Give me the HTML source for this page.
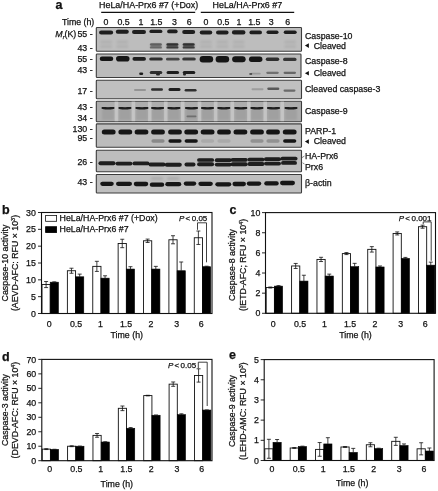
<!DOCTYPE html>
<html><head><meta charset="utf-8"><style>
html,body{margin:0;padding:0;background:#fff;}
body{width:438px;height:491px;overflow:hidden;}
svg{display:block;will-change:transform;font-family:"Liberation Sans",sans-serif;fill:#111;}
text{fill:#111;stroke:#111;stroke-width:0.25px;}
</style></head><body>
<svg width="438" height="491" viewBox="0 0 438 491">
<text x="55.50" y="9.30" font-size="12.5" text-anchor="start" font-weight="bold">a</text>
<text x="99.00" y="8.30" font-size="8.92" text-anchor="start">HeLa/HA-Prx6 #7 (+Dox)</text>
<text x="212.60" y="8.30" font-size="8.88" text-anchor="start">HeLa/HA-Prx6 #7</text>
<line x1="101.20" y1="12.40" x2="195.20" y2="12.40" stroke="#111" stroke-width="1.1"/>
<line x1="200.80" y1="12.40" x2="294.20" y2="12.40" stroke="#111" stroke-width="1.1"/>
<text x="94.30" y="24.60" font-size="8.8" text-anchor="end">Time (h)</text>
<text x="106.00" y="24.70" font-size="8.8" text-anchor="middle">0</text>
<text x="123.60" y="24.70" font-size="8.8" text-anchor="middle">0.5</text>
<text x="141.00" y="24.70" font-size="8.8" text-anchor="middle">1</text>
<text x="156.30" y="24.70" font-size="8.8" text-anchor="middle">1.5</text>
<text x="174.40" y="24.70" font-size="8.8" text-anchor="middle">3</text>
<text x="189.20" y="24.70" font-size="8.8" text-anchor="middle">6</text>
<text x="206.00" y="24.70" font-size="8.8" text-anchor="middle">0</text>
<text x="223.40" y="24.70" font-size="8.8" text-anchor="middle">0.5</text>
<text x="238.90" y="24.70" font-size="8.8" text-anchor="middle">1</text>
<text x="254.30" y="24.70" font-size="8.8" text-anchor="middle">1.5</text>
<text x="271.20" y="24.70" font-size="8.8" text-anchor="middle">3</text>
<text x="287.70" y="24.70" font-size="8.8" text-anchor="middle">6</text>
<text x="92.60" y="36.90" font-size="8.8" text-anchor="end">55 -</text>
<text x="92.60" y="50.60" font-size="8.8" text-anchor="end">43 -</text>
<text x="92.60" y="62.10" font-size="8.8" text-anchor="end">55 -</text>
<text x="92.60" y="73.20" font-size="8.8" text-anchor="end">43 -</text>
<text x="92.60" y="93.50" font-size="8.8" text-anchor="end">17 -</text>
<text x="92.60" y="110.20" font-size="8.8" text-anchor="end">43 -</text>
<text x="92.60" y="120.90" font-size="8.8" text-anchor="end">34 -</text>
<text x="92.60" y="131.60" font-size="8.8" text-anchor="end">130 -</text>
<text x="92.60" y="141.40" font-size="8.8" text-anchor="end">95 -</text>
<text x="92.60" y="165.40" font-size="8.8" text-anchor="end">26 -</text>
<text x="92.60" y="185.40" font-size="8.8" text-anchor="end">43 -</text>
<text x="55.3" y="36.9" font-size="8.8"><tspan font-style="italic">M</tspan><tspan font-size="5.5" font-style="italic" dy="1.6">r</tspan><tspan dy="-1.6">(K)</tspan></text>
<defs><filter id="bl" x="-30%" y="-150%" width="160%" height="400%"><feGaussianBlur stdDeviation="0.75"/></filter><filter id="bl2" x="-30%" y="-150%" width="160%" height="400%"><feGaussianBlur stdDeviation="1.2"/></filter><filter id="pb" x="-5%" y="-20%" width="110%" height="140%"><feGaussianBlur stdDeviation="0.35"/></filter></defs>
<rect x="96.30" y="27.50" width="205.20" height="23.80" fill="#bdbdbd" stroke="#3c3c3c" stroke-width="1.1" rx="0.8"/>
<rect x="96.30" y="54.00" width="204.70" height="23.50" fill="#bbbbbb" stroke="#3c3c3c" stroke-width="1.1" rx="0.8"/>
<rect x="96.30" y="80.20" width="205.20" height="18.60" fill="#c0c0c0" stroke="#3c3c3c" stroke-width="1.1" rx="0.8"/>
<rect x="96.30" y="101.20" width="205.20" height="20.50" fill="#adadad" stroke="#3c3c3c" stroke-width="1.1" rx="0.8"/>
<rect x="96.30" y="123.90" width="205.20" height="23.40" fill="#bcbcbc" stroke="#3c3c3c" stroke-width="1.1" rx="0.8"/>
<rect x="96.30" y="150.30" width="205.20" height="21.50" fill="#bdbdbd" stroke="#3c3c3c" stroke-width="1.1" rx="0.8"/>
<rect x="96.30" y="174.50" width="205.20" height="18.50" fill="#bfbfbf" stroke="#3c3c3c" stroke-width="1.1" rx="0.8"/>
<rect x="99.10" y="30.55" width="14.00" height="3.90" rx="1.95" fill="#151515" opacity="0.95" filter="url(#bl)"/>
<rect x="115.80" y="29.75" width="13.00" height="3.90" rx="1.95" fill="#151515" opacity="0.95" filter="url(#bl)"/>
<rect x="132.00" y="30.05" width="14.00" height="3.90" rx="1.95" fill="#151515" opacity="0.95" filter="url(#bl)"/>
<rect x="149.40" y="29.75" width="13.00" height="3.30" rx="1.65" fill="#151515" opacity="0.95" filter="url(#bl)"/>
<rect x="167.15" y="29.45" width="10.50" height="3.90" rx="1.95" fill="#151515" opacity="0.95" filter="url(#bl)"/>
<rect x="182.20" y="29.95" width="13.00" height="4.10" rx="2.05" fill="#151515" opacity="0.95" filter="url(#bl)"/>
<rect x="199.75" y="30.45" width="12.50" height="4.10" rx="2.05" fill="#151515" opacity="0.95" filter="url(#bl)"/>
<rect x="216.05" y="30.45" width="12.50" height="4.10" rx="2.05" fill="#151515" opacity="0.95" filter="url(#bl)"/>
<rect x="231.95" y="30.35" width="13.50" height="4.10" rx="2.05" fill="#151515" opacity="0.95" filter="url(#bl)"/>
<rect x="249.45" y="30.45" width="12.50" height="3.90" rx="1.95" fill="#151515" opacity="0.95" filter="url(#bl)"/>
<rect x="266.50" y="30.45" width="12.00" height="3.50" rx="1.75" fill="#151515" opacity="0.95" filter="url(#bl)"/>
<rect x="283.70" y="30.45" width="13.00" height="3.50" rx="1.75" fill="#151515" opacity="0.95" filter="url(#bl)"/>
<rect x="149.90" y="43.20" width="12.00" height="2.60" rx="1.30" fill="#151515" opacity="0.50" filter="url(#bl)"/>
<rect x="149.90" y="46.20" width="12.00" height="2.40" rx="1.20" fill="#151515" opacity="0.45" filter="url(#bl)"/>
<rect x="149.90" y="43.50" width="12.00" height="5.00" rx="2.50" fill="#151515" opacity="0.15" filter="url(#bl2)"/>
<rect x="166.40" y="43.20" width="12.00" height="2.60" rx="1.30" fill="#151515" opacity="0.80" filter="url(#bl)"/>
<rect x="166.40" y="46.20" width="12.00" height="2.40" rx="1.20" fill="#151515" opacity="0.72" filter="url(#bl)"/>
<rect x="166.40" y="43.50" width="12.00" height="5.00" rx="2.50" fill="#151515" opacity="0.24" filter="url(#bl2)"/>
<rect x="182.70" y="43.20" width="12.00" height="2.60" rx="1.30" fill="#151515" opacity="0.80" filter="url(#bl)"/>
<rect x="182.70" y="46.20" width="12.00" height="2.40" rx="1.20" fill="#151515" opacity="0.72" filter="url(#bl)"/>
<rect x="182.70" y="43.50" width="12.00" height="5.00" rx="2.50" fill="#151515" opacity="0.24" filter="url(#bl2)"/>
<rect x="100.10" y="40.50" width="12.00" height="3.00" rx="1.50" fill="#151515" opacity="0.07" filter="url(#bl2)"/>
<rect x="100.10" y="45.00" width="12.00" height="3.00" rx="1.50" fill="#151515" opacity="0.07" filter="url(#bl2)"/>
<rect x="116.30" y="40.50" width="12.00" height="3.00" rx="1.50" fill="#151515" opacity="0.07" filter="url(#bl2)"/>
<rect x="116.30" y="45.00" width="12.00" height="3.00" rx="1.50" fill="#151515" opacity="0.07" filter="url(#bl2)"/>
<rect x="200.00" y="40.50" width="12.00" height="3.00" rx="1.50" fill="#151515" opacity="0.07" filter="url(#bl2)"/>
<rect x="200.00" y="45.00" width="12.00" height="3.00" rx="1.50" fill="#151515" opacity="0.07" filter="url(#bl2)"/>
<rect x="216.30" y="40.50" width="12.00" height="3.00" rx="1.50" fill="#151515" opacity="0.07" filter="url(#bl2)"/>
<rect x="216.30" y="45.00" width="12.00" height="3.00" rx="1.50" fill="#151515" opacity="0.07" filter="url(#bl2)"/>
<rect x="232.70" y="40.50" width="12.00" height="3.00" rx="1.50" fill="#151515" opacity="0.07" filter="url(#bl2)"/>
<rect x="232.70" y="45.00" width="12.00" height="3.00" rx="1.50" fill="#151515" opacity="0.07" filter="url(#bl2)"/>
<rect x="284.20" y="40.50" width="12.00" height="3.00" rx="1.50" fill="#151515" opacity="0.07" filter="url(#bl2)"/>
<rect x="284.20" y="45.00" width="12.00" height="3.00" rx="1.50" fill="#151515" opacity="0.07" filter="url(#bl2)"/>
<rect x="99.75" y="56.60" width="13.50" height="4.40" rx="2.20" fill="#151515" opacity="1.00" filter="url(#bl)"/>
<rect x="116.05" y="56.00" width="13.50" height="5.60" rx="2.80" fill="#151515" opacity="1.00" filter="url(#bl)"/>
<rect x="132.45" y="57.10" width="13.50" height="3.60" rx="1.80" fill="#151515" opacity="0.95" filter="url(#bl)"/>
<rect x="149.25" y="57.40" width="13.50" height="3.20" rx="1.60" fill="#151515" opacity="0.85" filter="url(#bl)"/>
<rect x="166.05" y="57.80" width="13.50" height="2.80" rx="1.40" fill="#151515" opacity="0.70" filter="url(#bl)"/>
<rect x="182.25" y="57.40" width="13.50" height="3.20" rx="1.60" fill="#151515" opacity="0.80" filter="url(#bl)"/>
<rect x="199.65" y="56.00" width="13.50" height="6.40" rx="3.20" fill="#151515" opacity="1.00" filter="url(#bl)"/>
<rect x="215.65" y="56.00" width="13.50" height="6.40" rx="3.20" fill="#151515" opacity="1.00" filter="url(#bl)"/>
<rect x="232.15" y="56.20" width="13.50" height="6.00" rx="3.00" fill="#151515" opacity="1.00" filter="url(#bl)"/>
<rect x="248.95" y="56.50" width="13.50" height="5.40" rx="2.70" fill="#151515" opacity="1.00" filter="url(#bl)"/>
<rect x="265.75" y="57.50" width="13.50" height="3.40" rx="1.70" fill="#151515" opacity="0.85" filter="url(#bl)"/>
<rect x="283.05" y="57.80" width="13.50" height="3.20" rx="1.60" fill="#151515" opacity="0.80" filter="url(#bl)"/>
<rect x="149.75" y="70.90" width="12.50" height="3.00" rx="1.50" fill="#151515" opacity="0.85" filter="url(#bl)"/>
<rect x="166.55" y="70.90" width="12.50" height="3.00" rx="1.50" fill="#151515" opacity="0.95" filter="url(#bl)"/>
<rect x="182.75" y="70.90" width="12.50" height="3.00" rx="1.50" fill="#151515" opacity="0.95" filter="url(#bl)"/>
<rect x="266.25" y="71.70" width="12.50" height="2.20" rx="1.10" fill="#151515" opacity="0.45" filter="url(#bl)"/>
<rect x="283.55" y="71.70" width="12.50" height="2.20" rx="1.10" fill="#151515" opacity="0.50" filter="url(#bl)"/>
<rect x="139.20" y="72.60" width="4.00" height="2.40" rx="1.20" fill="#151515" opacity="0.95" filter="url(#bl)"/>
<rect x="156.00" y="73.60" width="4.00" height="2.00" rx="1.00" fill="#151515" opacity="0.90" filter="url(#bl)"/>
<rect x="183.00" y="73.40" width="3.00" height="2.00" rx="1.00" fill="#151515" opacity="0.90" filter="url(#bl)"/>
<rect x="249.20" y="73.10" width="3.00" height="1.80" rx="0.90" fill="#151515" opacity="0.60" filter="url(#bl)"/>
<rect x="250.70" y="72.70" width="10.00" height="1.80" rx="0.90" fill="#151515" opacity="0.20" filter="url(#bl)"/>
<rect x="134.00" y="89.00" width="12.00" height="2.00" rx="1.00" fill="#151515" opacity="0.25" filter="url(#bl)"/>
<rect x="151.00" y="88.20" width="12.00" height="2.60" rx="1.30" fill="#151515" opacity="0.85" filter="url(#bl)"/>
<rect x="168.50" y="88.00" width="12.00" height="3.00" rx="1.50" fill="#151515" opacity="0.95" filter="url(#bl)"/>
<rect x="184.60" y="89.00" width="12.00" height="2.60" rx="1.30" fill="#151515" opacity="0.85" filter="url(#bl)"/>
<rect x="251.50" y="88.20" width="12.00" height="2.00" rx="1.00" fill="#151515" opacity="0.20" filter="url(#bl)"/>
<rect x="267.30" y="87.60" width="12.00" height="2.40" rx="1.20" fill="#151515" opacity="0.60" filter="url(#bl)"/>
<rect x="283.50" y="89.50" width="12.00" height="2.20" rx="1.10" fill="#151515" opacity="0.50" filter="url(#bl)"/>
<rect x="114.65" y="101.6" width="3.6" height="19.6" fill="#cacaca" opacity="0.85" filter="url(#bl)"/>
<rect x="131.60" y="101.6" width="3.6" height="19.6" fill="#cacaca" opacity="0.85" filter="url(#bl)"/>
<rect x="147.95" y="101.6" width="3.6" height="19.6" fill="#cacaca" opacity="0.85" filter="url(#bl)"/>
<rect x="163.95" y="101.6" width="3.6" height="19.6" fill="#cacaca" opacity="0.85" filter="url(#bl)"/>
<rect x="180.90" y="101.6" width="3.6" height="19.6" fill="#cacaca" opacity="0.85" filter="url(#bl)"/>
<rect x="197.70" y="101.6" width="3.6" height="19.6" fill="#cacaca" opacity="0.85" filter="url(#bl)"/>
<rect x="213.85" y="101.6" width="3.6" height="19.6" fill="#cacaca" opacity="0.85" filter="url(#bl)"/>
<rect x="230.50" y="101.6" width="3.6" height="19.6" fill="#cacaca" opacity="0.85" filter="url(#bl)"/>
<rect x="247.05" y="101.6" width="3.6" height="19.6" fill="#cacaca" opacity="0.85" filter="url(#bl)"/>
<rect x="263.40" y="101.6" width="3.6" height="19.6" fill="#cacaca" opacity="0.85" filter="url(#bl)"/>
<rect x="280.45" y="101.6" width="3.6" height="19.6" fill="#cacaca" opacity="0.85" filter="url(#bl)"/>
<rect x="102.00" y="109" width="12" height="11" fill="#7a7a7a" opacity="0.25" filter="url(#bl2)"/>
<path d="M102.70,107.90 Q108.00,108.90 113.30,107.90" stroke="#151515" stroke-width="2.40" stroke-linecap="round" fill="none" opacity="0.95" filter="url(#bl)"/>
<rect x="118.90" y="109" width="12" height="11" fill="#7a7a7a" opacity="0.25" filter="url(#bl2)"/>
<path d="M119.60,107.90 Q124.90,108.90 130.20,107.90" stroke="#151515" stroke-width="2.40" stroke-linecap="round" fill="none" opacity="0.95" filter="url(#bl)"/>
<rect x="135.90" y="109" width="12" height="11" fill="#7a7a7a" opacity="0.25" filter="url(#bl2)"/>
<path d="M136.60,107.90 Q141.90,108.90 147.20,107.90" stroke="#151515" stroke-width="2.40" stroke-linecap="round" fill="none" opacity="0.95" filter="url(#bl)"/>
<rect x="151.60" y="109" width="12" height="11" fill="#7a7a7a" opacity="0.25" filter="url(#bl2)"/>
<path d="M152.30,107.90 Q157.60,108.90 162.90,107.90" stroke="#151515" stroke-width="2.40" stroke-linecap="round" fill="none" opacity="0.95" filter="url(#bl)"/>
<rect x="167.90" y="109" width="12" height="11" fill="#7a7a7a" opacity="0.25" filter="url(#bl2)"/>
<path d="M168.60,107.90 Q173.90,108.90 179.20,107.90" stroke="#151515" stroke-width="2.40" stroke-linecap="round" fill="none" opacity="0.95" filter="url(#bl)"/>
<rect x="185.50" y="109" width="12" height="11" fill="#7a7a7a" opacity="0.25" filter="url(#bl2)"/>
<path d="M186.20,107.90 Q191.50,108.90 196.80,107.90" stroke="#151515" stroke-width="2.40" stroke-linecap="round" fill="none" opacity="0.95" filter="url(#bl)"/>
<rect x="201.50" y="109" width="12" height="11" fill="#7a7a7a" opacity="0.25" filter="url(#bl2)"/>
<path d="M202.20,107.90 Q207.50,108.90 212.80,107.90" stroke="#151515" stroke-width="2.40" stroke-linecap="round" fill="none" opacity="0.95" filter="url(#bl)"/>
<rect x="217.80" y="109" width="12" height="11" fill="#7a7a7a" opacity="0.25" filter="url(#bl2)"/>
<path d="M218.50,107.90 Q223.80,108.90 229.10,107.90" stroke="#151515" stroke-width="2.40" stroke-linecap="round" fill="none" opacity="0.95" filter="url(#bl)"/>
<rect x="234.80" y="109" width="12" height="11" fill="#7a7a7a" opacity="0.25" filter="url(#bl2)"/>
<path d="M235.50,107.90 Q240.80,108.90 246.10,107.90" stroke="#151515" stroke-width="2.40" stroke-linecap="round" fill="none" opacity="0.95" filter="url(#bl)"/>
<rect x="250.90" y="109" width="12" height="11" fill="#7a7a7a" opacity="0.25" filter="url(#bl2)"/>
<path d="M251.60,107.90 Q256.90,108.90 262.20,107.90" stroke="#151515" stroke-width="2.40" stroke-linecap="round" fill="none" opacity="0.95" filter="url(#bl)"/>
<rect x="267.50" y="109" width="12" height="11" fill="#7a7a7a" opacity="0.25" filter="url(#bl2)"/>
<path d="M268.20,107.90 Q273.50,108.90 278.80,107.90" stroke="#151515" stroke-width="2.40" stroke-linecap="round" fill="none" opacity="0.95" filter="url(#bl)"/>
<rect x="285.00" y="109" width="12" height="11" fill="#7a7a7a" opacity="0.25" filter="url(#bl2)"/>
<path d="M285.70,107.90 Q291.00,108.90 296.30,107.90" stroke="#151515" stroke-width="2.40" stroke-linecap="round" fill="none" opacity="0.95" filter="url(#bl)"/>
<rect x="186.50" y="115.40" width="10.00" height="1.80" rx="0.90" fill="#151515" opacity="0.35" filter="url(#bl)"/>
<rect x="101.80" y="129.60" width="13.80" height="5.00" rx="2.50" fill="#151515" opacity="1.00" filter="url(#bl)"/>
<rect x="118.40" y="129.60" width="13.80" height="5.00" rx="2.50" fill="#151515" opacity="1.00" filter="url(#bl)"/>
<rect x="134.60" y="129.60" width="13.80" height="5.00" rx="2.50" fill="#151515" opacity="1.00" filter="url(#bl)"/>
<rect x="151.10" y="129.60" width="13.80" height="5.00" rx="2.50" fill="#151515" opacity="1.00" filter="url(#bl)"/>
<rect x="168.10" y="129.60" width="13.80" height="5.00" rx="2.50" fill="#151515" opacity="1.00" filter="url(#bl)"/>
<rect x="184.30" y="129.60" width="13.80" height="5.00" rx="2.50" fill="#151515" opacity="1.00" filter="url(#bl)"/>
<rect x="200.70" y="129.60" width="13.80" height="5.00" rx="2.50" fill="#151515" opacity="1.00" filter="url(#bl)"/>
<rect x="217.10" y="129.60" width="13.80" height="5.00" rx="2.50" fill="#151515" opacity="1.00" filter="url(#bl)"/>
<rect x="233.50" y="129.60" width="13.80" height="5.00" rx="2.50" fill="#151515" opacity="1.00" filter="url(#bl)"/>
<rect x="250.10" y="129.60" width="13.80" height="5.00" rx="2.50" fill="#151515" opacity="1.00" filter="url(#bl)"/>
<rect x="266.10" y="129.60" width="13.80" height="5.00" rx="2.50" fill="#151515" opacity="1.00" filter="url(#bl)"/>
<rect x="282.80" y="129.60" width="13.80" height="5.00" rx="2.50" fill="#151515" opacity="1.00" filter="url(#bl)"/>
<rect x="151.40" y="139.35" width="13.20" height="3.50" rx="1.75" fill="#151515" opacity="0.30" filter="url(#bl)"/>
<rect x="168.40" y="139.35" width="13.20" height="3.50" rx="1.75" fill="#151515" opacity="1.00" filter="url(#bl)"/>
<rect x="184.60" y="139.35" width="13.20" height="3.50" rx="1.75" fill="#151515" opacity="1.00" filter="url(#bl)"/>
<rect x="201.00" y="139.35" width="13.20" height="3.50" rx="1.75" fill="#151515" opacity="0.10" filter="url(#bl)"/>
<rect x="217.40" y="139.35" width="13.20" height="3.50" rx="1.75" fill="#151515" opacity="0.10" filter="url(#bl)"/>
<rect x="250.40" y="139.35" width="13.20" height="3.50" rx="1.75" fill="#151515" opacity="0.25" filter="url(#bl)"/>
<rect x="266.40" y="139.35" width="13.20" height="3.50" rx="1.75" fill="#151515" opacity="0.25" filter="url(#bl)"/>
<rect x="283.10" y="139.35" width="13.20" height="3.50" rx="1.75" fill="#151515" opacity="1.00" filter="url(#bl)"/>
<rect x="98.50" y="161.35" width="17.00" height="3.90" rx="1.95" fill="#151515" opacity="0.95" filter="url(#bl)"/>
<rect x="115.50" y="161.65" width="17.00" height="3.90" rx="1.95" fill="#151515" opacity="0.95" filter="url(#bl)"/>
<rect x="132.50" y="161.45" width="17.00" height="3.90" rx="1.95" fill="#151515" opacity="0.95" filter="url(#bl)"/>
<rect x="148.50" y="162.55" width="17.00" height="3.90" rx="1.95" fill="#151515" opacity="0.95" filter="url(#bl)"/>
<rect x="164.80" y="162.75" width="17.00" height="3.90" rx="1.95" fill="#151515" opacity="0.95" filter="url(#bl)"/>
<rect x="184.50" y="162.55" width="11.00" height="3.90" rx="1.95" fill="#151515" opacity="0.95" filter="url(#bl)"/>
<rect x="197.10" y="162.35" width="17.00" height="3.90" rx="1.95" fill="#151515" opacity="0.95" filter="url(#bl)"/>
<rect x="214.80" y="162.65" width="17.00" height="3.90" rx="1.95" fill="#151515" opacity="0.95" filter="url(#bl)"/>
<rect x="230.70" y="162.35" width="17.00" height="3.90" rx="1.95" fill="#151515" opacity="0.95" filter="url(#bl)"/>
<rect x="247.50" y="162.05" width="17.00" height="3.90" rx="1.95" fill="#151515" opacity="0.95" filter="url(#bl)"/>
<rect x="264.00" y="161.65" width="17.00" height="3.90" rx="1.95" fill="#151515" opacity="0.95" filter="url(#bl)"/>
<rect x="281.00" y="160.95" width="16.00" height="3.90" rx="1.95" fill="#151515" opacity="0.95" filter="url(#bl)"/>
<rect x="197.10" y="158.15" width="17.00" height="3.70" rx="1.85" fill="#151515" opacity="0.95" filter="url(#bl)"/>
<rect x="214.80" y="158.35" width="17.00" height="3.70" rx="1.85" fill="#151515" opacity="0.95" filter="url(#bl)"/>
<rect x="230.70" y="157.95" width="17.00" height="3.70" rx="1.85" fill="#151515" opacity="0.95" filter="url(#bl)"/>
<rect x="247.50" y="157.75" width="17.00" height="3.70" rx="1.85" fill="#151515" opacity="0.95" filter="url(#bl)"/>
<rect x="264.00" y="157.35" width="17.00" height="3.70" rx="1.85" fill="#151515" opacity="0.95" filter="url(#bl)"/>
<rect x="280.50" y="156.75" width="17.00" height="3.70" rx="1.85" fill="#151515" opacity="0.95" filter="url(#bl)"/>
<rect x="100.25" y="181.65" width="13.50" height="4.30" rx="2.15" fill="#151515" opacity="1.00" filter="url(#bl)"/>
<rect x="116.00" y="181.65" width="16.00" height="4.30" rx="2.15" fill="#151515" opacity="1.00" filter="url(#bl)"/>
<rect x="133.75" y="181.85" width="14.50" height="4.30" rx="2.15" fill="#151515" opacity="1.00" filter="url(#bl)"/>
<rect x="149.75" y="182.55" width="14.50" height="4.30" rx="2.15" fill="#151515" opacity="1.00" filter="url(#bl)"/>
<rect x="165.30" y="182.05" width="16.00" height="4.30" rx="2.15" fill="#151515" opacity="1.00" filter="url(#bl)"/>
<rect x="183.75" y="181.45" width="12.50" height="4.30" rx="2.15" fill="#151515" opacity="1.00" filter="url(#bl)"/>
<rect x="198.35" y="181.65" width="14.50" height="4.30" rx="2.15" fill="#151515" opacity="1.00" filter="url(#bl)"/>
<rect x="215.30" y="182.15" width="16.00" height="4.30" rx="2.15" fill="#151515" opacity="1.00" filter="url(#bl)"/>
<rect x="232.45" y="181.85" width="13.50" height="4.30" rx="2.15" fill="#151515" opacity="1.00" filter="url(#bl)"/>
<rect x="246.75" y="181.45" width="14.50" height="4.30" rx="2.15" fill="#151515" opacity="1.00" filter="url(#bl)"/>
<rect x="264.25" y="181.25" width="14.50" height="4.30" rx="2.15" fill="#151515" opacity="1.00" filter="url(#bl)"/>
<rect x="280.00" y="180.85" width="15.00" height="4.30" rx="2.15" fill="#151515" opacity="1.00" filter="url(#bl)"/>
<rect x="151.00" y="177.35" width="12.00" height="2.50" rx="1.25" fill="#151515" opacity="0.12" filter="url(#bl2)"/>
<rect x="167.30" y="177.35" width="12.00" height="2.50" rx="1.25" fill="#151515" opacity="0.12" filter="url(#bl2)"/>
<text x="305.00" y="38.80" font-size="8.8" text-anchor="start">Caspase-10</text>
<text x="313.70" y="48.80" font-size="8.8" text-anchor="start">Cleaved</text>
<text x="305.00" y="63.70" font-size="8.8" text-anchor="start">Caspase-8</text>
<text x="313.70" y="75.70" font-size="8.8" text-anchor="start">Cleaved</text>
<text x="305.00" y="91.70" font-size="8.8" text-anchor="start">Cleaved caspase-3</text>
<text x="305.00" y="113.70" font-size="8.8" text-anchor="start">Caspase-9</text>
<text x="305.00" y="133.70" font-size="8.8" text-anchor="start">PARP-1</text>
<text x="313.70" y="143.80" font-size="8.8" text-anchor="start">Cleaved</text>
<text x="305.00" y="158.70" font-size="8.8" text-anchor="start">HA-Prx6</text>
<text x="305.00" y="169.50" font-size="8.8" text-anchor="start">Prx6</text>
<text x="305.00" y="186.10" font-size="8.8" text-anchor="start">&#946;-actin</text>
<polygon points="304.9,45.60 308.9,43.30 308.9,47.90" fill="#111"/>
<polygon points="304.9,73.20 308.9,70.90 308.9,75.50" fill="#111"/>
<polygon points="304.9,141.60 308.9,139.30 308.9,143.90" fill="#111"/>
<path d="M302,157.6 L304.5,156" stroke="#333" stroke-width="0.6" fill="none"/>
<path d="M302.5,162.8 L304.5,164" stroke="#333" stroke-width="0.6" fill="none"/>
<rect x="45.60" y="215.40" width="11.00" height="5.90" fill="#fff" stroke="#111" stroke-width="0.8"/>
<rect x="45.60" y="226.70" width="11.00" height="5.90" fill="#000" stroke="#000" stroke-width="0.8"/>
<text x="59.60" y="221.20" font-size="8.8" text-anchor="start">HeLa/HA-Prx6 #7 (+Dox)</text>
<text x="59.60" y="232.40" font-size="8.8" text-anchor="start">HeLa/HA-Prx6 #7</text>
<text x="2.00" y="213.80" font-size="12.5" text-anchor="start" font-weight="bold">b</text>
<rect x="42.00" y="284.55" width="8.20" height="28.95" fill="#fff" stroke="#111" stroke-width="0.9"/>
<rect x="50.20" y="282.19" width="8.20" height="31.31" fill="#000" stroke="#000" stroke-width="0.6"/>
<line x1="46.10" y1="281.52" x2="46.10" y2="287.58" stroke="#111" stroke-width="0.8"/>
<line x1="44.10" y1="281.52" x2="48.10" y2="281.52" stroke="#111" stroke-width="0.8"/>
<line x1="44.10" y1="287.58" x2="48.10" y2="287.58" stroke="#111" stroke-width="0.8"/>
<line x1="54.30" y1="281.85" x2="54.30" y2="282.19" stroke="#111" stroke-width="0.8"/>
<line x1="52.30" y1="281.85" x2="56.30" y2="281.85" stroke="#111" stroke-width="0.8"/>
<rect x="67.38" y="270.74" width="8.20" height="42.76" fill="#fff" stroke="#111" stroke-width="0.9"/>
<rect x="75.58" y="276.80" width="8.20" height="36.70" fill="#000" stroke="#000" stroke-width="0.6"/>
<line x1="71.48" y1="268.22" x2="71.48" y2="273.27" stroke="#111" stroke-width="0.8"/>
<line x1="69.48" y1="268.22" x2="73.48" y2="268.22" stroke="#111" stroke-width="0.8"/>
<line x1="69.48" y1="273.27" x2="73.48" y2="273.27" stroke="#111" stroke-width="0.8"/>
<line x1="79.68" y1="274.11" x2="79.68" y2="276.80" stroke="#111" stroke-width="0.8"/>
<line x1="77.68" y1="274.11" x2="81.68" y2="274.11" stroke="#111" stroke-width="0.8"/>
<rect x="92.76" y="266.37" width="8.20" height="47.13" fill="#fff" stroke="#111" stroke-width="0.9"/>
<rect x="100.96" y="278.15" width="8.20" height="35.35" fill="#000" stroke="#000" stroke-width="0.6"/>
<line x1="96.86" y1="261.32" x2="96.86" y2="271.42" stroke="#111" stroke-width="0.8"/>
<line x1="94.86" y1="261.32" x2="98.86" y2="261.32" stroke="#111" stroke-width="0.8"/>
<line x1="94.86" y1="271.42" x2="98.86" y2="271.42" stroke="#111" stroke-width="0.8"/>
<line x1="105.06" y1="275.79" x2="105.06" y2="278.15" stroke="#111" stroke-width="0.8"/>
<line x1="103.06" y1="275.79" x2="107.06" y2="275.79" stroke="#111" stroke-width="0.8"/>
<rect x="118.14" y="243.47" width="8.20" height="70.03" fill="#fff" stroke="#111" stroke-width="0.9"/>
<rect x="126.34" y="269.06" width="8.20" height="44.44" fill="#000" stroke="#000" stroke-width="0.6"/>
<line x1="122.24" y1="239.26" x2="122.24" y2="247.68" stroke="#111" stroke-width="0.8"/>
<line x1="120.24" y1="239.26" x2="124.24" y2="239.26" stroke="#111" stroke-width="0.8"/>
<line x1="120.24" y1="247.68" x2="124.24" y2="247.68" stroke="#111" stroke-width="0.8"/>
<line x1="130.44" y1="266.70" x2="130.44" y2="269.06" stroke="#111" stroke-width="0.8"/>
<line x1="128.44" y1="266.70" x2="132.44" y2="266.70" stroke="#111" stroke-width="0.8"/>
<rect x="143.52" y="240.78" width="8.20" height="72.72" fill="#fff" stroke="#111" stroke-width="0.9"/>
<rect x="151.72" y="269.06" width="8.20" height="44.44" fill="#000" stroke="#000" stroke-width="0.6"/>
<line x1="147.62" y1="239.10" x2="147.62" y2="242.46" stroke="#111" stroke-width="0.8"/>
<line x1="145.62" y1="239.10" x2="149.62" y2="239.10" stroke="#111" stroke-width="0.8"/>
<line x1="145.62" y1="242.46" x2="149.62" y2="242.46" stroke="#111" stroke-width="0.8"/>
<line x1="155.82" y1="266.37" x2="155.82" y2="269.06" stroke="#111" stroke-width="0.8"/>
<line x1="153.82" y1="266.37" x2="157.82" y2="266.37" stroke="#111" stroke-width="0.8"/>
<rect x="168.90" y="239.77" width="8.20" height="73.73" fill="#fff" stroke="#111" stroke-width="0.9"/>
<rect x="177.10" y="270.74" width="8.20" height="42.76" fill="#000" stroke="#000" stroke-width="0.6"/>
<line x1="173.00" y1="235.73" x2="173.00" y2="243.81" stroke="#111" stroke-width="0.8"/>
<line x1="171.00" y1="235.73" x2="175.00" y2="235.73" stroke="#111" stroke-width="0.8"/>
<line x1="171.00" y1="243.81" x2="175.00" y2="243.81" stroke="#111" stroke-width="0.8"/>
<line x1="181.20" y1="261.99" x2="181.20" y2="270.74" stroke="#111" stroke-width="0.8"/>
<line x1="179.20" y1="261.99" x2="183.20" y2="261.99" stroke="#111" stroke-width="0.8"/>
<rect x="194.28" y="237.75" width="8.20" height="75.75" fill="#fff" stroke="#111" stroke-width="0.9"/>
<rect x="202.48" y="266.70" width="8.20" height="46.80" fill="#000" stroke="#000" stroke-width="0.6"/>
<line x1="198.38" y1="231.02" x2="198.38" y2="244.48" stroke="#111" stroke-width="0.8"/>
<line x1="196.38" y1="231.02" x2="200.38" y2="231.02" stroke="#111" stroke-width="0.8"/>
<line x1="196.38" y1="244.48" x2="200.38" y2="244.48" stroke="#111" stroke-width="0.8"/>
<line x1="206.58" y1="266.20" x2="206.58" y2="266.70" stroke="#111" stroke-width="0.8"/>
<line x1="204.58" y1="266.20" x2="208.58" y2="266.20" stroke="#111" stroke-width="0.8"/>
<rect x="41.50" y="212.50" width="170.50" height="101.00" fill="none" stroke="#111" stroke-width="1.1"/>
<line x1="38.00" y1="313.50" x2="41.50" y2="313.50" stroke="#111" stroke-width="0.9"/>
<text x="35.90" y="316.60" font-size="8.8" text-anchor="end">0</text>
<line x1="38.00" y1="296.67" x2="41.50" y2="296.67" stroke="#111" stroke-width="0.9"/>
<text x="35.90" y="299.77" font-size="8.8" text-anchor="end">5</text>
<line x1="38.00" y1="279.83" x2="41.50" y2="279.83" stroke="#111" stroke-width="0.9"/>
<text x="35.90" y="282.93" font-size="8.8" text-anchor="end">10</text>
<line x1="38.00" y1="263.00" x2="41.50" y2="263.00" stroke="#111" stroke-width="0.9"/>
<text x="35.90" y="266.10" font-size="8.8" text-anchor="end">15</text>
<line x1="38.00" y1="246.17" x2="41.50" y2="246.17" stroke="#111" stroke-width="0.9"/>
<text x="35.90" y="249.27" font-size="8.8" text-anchor="end">20</text>
<line x1="38.00" y1="229.33" x2="41.50" y2="229.33" stroke="#111" stroke-width="0.9"/>
<text x="35.90" y="232.43" font-size="8.8" text-anchor="end">25</text>
<line x1="38.00" y1="212.50" x2="41.50" y2="212.50" stroke="#111" stroke-width="0.9"/>
<text x="35.90" y="215.60" font-size="8.8" text-anchor="end">30</text>
<text x="49.30" y="326.50" font-size="8.8" text-anchor="middle">0</text>
<text x="76.10" y="326.50" font-size="8.8" text-anchor="middle">0.5</text>
<text x="100.40" y="326.50" font-size="8.8" text-anchor="middle">1</text>
<text x="126.10" y="326.50" font-size="8.8" text-anchor="middle">1.5</text>
<text x="151.00" y="326.50" font-size="8.8" text-anchor="middle">2</text>
<text x="176.60" y="326.50" font-size="8.8" text-anchor="middle">3</text>
<text x="201.30" y="326.50" font-size="8.8" text-anchor="middle">6</text>
<text x="126.75" y="338.00" font-size="8.8" text-anchor="middle">Time (h)</text>
<text transform="translate(7.60,263.00) rotate(-90)" font-size="8.8" text-anchor="middle">Caspase-10 activity</text>
<text transform="translate(17.90,263.00) rotate(-90)" font-size="8.8" text-anchor="middle">(AEVD-AFC: RFU &#215; 10<tspan font-size="5.5" dy="-3">3</tspan><tspan dy="3">)</tspan></text>
<text x="207.30" y="221.00" font-size="8" text-anchor="end"><tspan font-style="italic">P</tspan><tspan dx="1.2">&lt;</tspan><tspan dx="1.5">0.05</tspan></text>
<path d="M197.50,229.80 L197.50,222.80 L206.50,222.80 L206.50,262.30" fill="none" stroke="#111" stroke-width="0.8"/>
<text x="229.50" y="213.80" font-size="12.5" text-anchor="start" font-weight="bold">c</text>
<rect x="266.20" y="287.52" width="8.20" height="25.78" fill="#fff" stroke="#111" stroke-width="0.9"/>
<rect x="274.40" y="286.11" width="8.20" height="27.19" fill="#000" stroke="#000" stroke-width="0.6"/>
<line x1="270.30" y1="287.02" x2="270.30" y2="288.02" stroke="#111" stroke-width="0.8"/>
<line x1="268.30" y1="287.02" x2="272.30" y2="287.02" stroke="#111" stroke-width="0.8"/>
<line x1="268.30" y1="288.02" x2="272.30" y2="288.02" stroke="#111" stroke-width="0.8"/>
<line x1="278.50" y1="285.61" x2="278.50" y2="286.11" stroke="#111" stroke-width="0.8"/>
<line x1="276.50" y1="285.61" x2="280.50" y2="285.61" stroke="#111" stroke-width="0.8"/>
<rect x="291.58" y="265.97" width="8.20" height="47.33" fill="#fff" stroke="#111" stroke-width="0.9"/>
<rect x="299.78" y="281.08" width="8.20" height="32.22" fill="#000" stroke="#000" stroke-width="0.6"/>
<line x1="295.68" y1="263.45" x2="295.68" y2="268.49" stroke="#111" stroke-width="0.8"/>
<line x1="293.68" y1="263.45" x2="297.68" y2="263.45" stroke="#111" stroke-width="0.8"/>
<line x1="293.68" y1="268.49" x2="297.68" y2="268.49" stroke="#111" stroke-width="0.8"/>
<line x1="303.88" y1="275.24" x2="303.88" y2="281.08" stroke="#111" stroke-width="0.8"/>
<line x1="301.88" y1="275.24" x2="305.88" y2="275.24" stroke="#111" stroke-width="0.8"/>
<rect x="316.96" y="259.43" width="8.20" height="53.87" fill="#fff" stroke="#111" stroke-width="0.9"/>
<rect x="325.16" y="276.04" width="8.20" height="37.26" fill="#000" stroke="#000" stroke-width="0.6"/>
<line x1="321.06" y1="257.31" x2="321.06" y2="261.54" stroke="#111" stroke-width="0.8"/>
<line x1="319.06" y1="257.31" x2="323.06" y2="257.31" stroke="#111" stroke-width="0.8"/>
<line x1="319.06" y1="261.54" x2="323.06" y2="261.54" stroke="#111" stroke-width="0.8"/>
<line x1="329.26" y1="274.13" x2="329.26" y2="276.04" stroke="#111" stroke-width="0.8"/>
<line x1="327.26" y1="274.13" x2="331.26" y2="274.13" stroke="#111" stroke-width="0.8"/>
<rect x="342.34" y="253.58" width="8.20" height="59.72" fill="#fff" stroke="#111" stroke-width="0.9"/>
<rect x="350.54" y="266.68" width="8.20" height="46.62" fill="#000" stroke="#000" stroke-width="0.6"/>
<line x1="346.44" y1="252.58" x2="346.44" y2="254.59" stroke="#111" stroke-width="0.8"/>
<line x1="344.44" y1="252.58" x2="348.44" y2="252.58" stroke="#111" stroke-width="0.8"/>
<line x1="344.44" y1="254.59" x2="348.44" y2="254.59" stroke="#111" stroke-width="0.8"/>
<line x1="354.64" y1="263.35" x2="354.64" y2="266.68" stroke="#111" stroke-width="0.8"/>
<line x1="352.64" y1="263.35" x2="356.64" y2="263.35" stroke="#111" stroke-width="0.8"/>
<rect x="367.72" y="249.36" width="8.20" height="63.94" fill="#fff" stroke="#111" stroke-width="0.9"/>
<rect x="375.92" y="266.98" width="8.20" height="46.32" fill="#000" stroke="#000" stroke-width="0.6"/>
<line x1="371.82" y1="246.64" x2="371.82" y2="252.07" stroke="#111" stroke-width="0.8"/>
<line x1="369.82" y1="246.64" x2="373.82" y2="246.64" stroke="#111" stroke-width="0.8"/>
<line x1="369.82" y1="252.07" x2="373.82" y2="252.07" stroke="#111" stroke-width="0.8"/>
<line x1="380.02" y1="265.97" x2="380.02" y2="266.98" stroke="#111" stroke-width="0.8"/>
<line x1="378.02" y1="265.97" x2="382.02" y2="265.97" stroke="#111" stroke-width="0.8"/>
<rect x="393.10" y="233.44" width="8.20" height="79.86" fill="#fff" stroke="#111" stroke-width="0.9"/>
<rect x="401.30" y="258.42" width="8.20" height="54.88" fill="#000" stroke="#000" stroke-width="0.6"/>
<line x1="397.20" y1="231.93" x2="397.20" y2="234.96" stroke="#111" stroke-width="0.8"/>
<line x1="395.20" y1="231.93" x2="399.20" y2="231.93" stroke="#111" stroke-width="0.8"/>
<line x1="395.20" y1="234.96" x2="399.20" y2="234.96" stroke="#111" stroke-width="0.8"/>
<line x1="405.40" y1="257.41" x2="405.40" y2="258.42" stroke="#111" stroke-width="0.8"/>
<line x1="403.40" y1="257.41" x2="407.40" y2="257.41" stroke="#111" stroke-width="0.8"/>
<rect x="418.48" y="226.70" width="8.20" height="86.60" fill="#fff" stroke="#111" stroke-width="0.9"/>
<rect x="426.68" y="265.17" width="8.20" height="48.13" fill="#000" stroke="#000" stroke-width="0.6"/>
<line x1="422.58" y1="225.19" x2="422.58" y2="228.21" stroke="#111" stroke-width="0.8"/>
<line x1="420.58" y1="225.19" x2="424.58" y2="225.19" stroke="#111" stroke-width="0.8"/>
<line x1="420.58" y1="228.21" x2="424.58" y2="228.21" stroke="#111" stroke-width="0.8"/>
<line x1="430.78" y1="262.14" x2="430.78" y2="265.17" stroke="#111" stroke-width="0.8"/>
<line x1="428.78" y1="262.14" x2="432.78" y2="262.14" stroke="#111" stroke-width="0.8"/>
<rect x="265.50" y="212.60" width="170.00" height="100.70" fill="none" stroke="#111" stroke-width="1.1"/>
<line x1="262.00" y1="313.30" x2="265.50" y2="313.30" stroke="#111" stroke-width="0.9"/>
<text x="260.40" y="316.40" font-size="8.8" text-anchor="end">0</text>
<line x1="262.00" y1="293.16" x2="265.50" y2="293.16" stroke="#111" stroke-width="0.9"/>
<text x="260.40" y="296.26" font-size="8.8" text-anchor="end">2</text>
<line x1="262.00" y1="273.02" x2="265.50" y2="273.02" stroke="#111" stroke-width="0.9"/>
<text x="260.40" y="276.12" font-size="8.8" text-anchor="end">4</text>
<line x1="262.00" y1="252.88" x2="265.50" y2="252.88" stroke="#111" stroke-width="0.9"/>
<text x="260.40" y="255.98" font-size="8.8" text-anchor="end">6</text>
<line x1="262.00" y1="232.74" x2="265.50" y2="232.74" stroke="#111" stroke-width="0.9"/>
<text x="260.40" y="235.84" font-size="8.8" text-anchor="end">8</text>
<line x1="262.00" y1="212.60" x2="265.50" y2="212.60" stroke="#111" stroke-width="0.9"/>
<text x="260.40" y="215.70" font-size="8.8" text-anchor="end">10</text>
<text x="273.30" y="326.50" font-size="8.8" text-anchor="middle">0</text>
<text x="300.10" y="326.50" font-size="8.8" text-anchor="middle">0.5</text>
<text x="324.40" y="326.50" font-size="8.8" text-anchor="middle">1</text>
<text x="350.10" y="326.50" font-size="8.8" text-anchor="middle">1.5</text>
<text x="375.00" y="326.50" font-size="8.8" text-anchor="middle">2</text>
<text x="400.60" y="326.50" font-size="8.8" text-anchor="middle">3</text>
<text x="425.30" y="326.50" font-size="8.8" text-anchor="middle">6</text>
<text x="355.50" y="338.00" font-size="8.8" text-anchor="middle">Time (h)</text>
<text transform="translate(235.00,264.95) rotate(-90)" font-size="8.8" text-anchor="middle">Caspase-8 activity</text>
<text transform="translate(245.60,264.95) rotate(-90)" font-size="8.8" text-anchor="middle">(IETD-AFC; RFU &#215; 10<tspan font-size="5.5" dy="-3">4</tspan><tspan dy="3">)</tspan></text>
<text x="431.50" y="221.20" font-size="8" text-anchor="end"><tspan font-style="italic">P</tspan><tspan dx="1.2">&lt;</tspan><tspan dx="1.5">0.001</tspan></text>
<path d="M423.20,224.20 L423.20,221.90 L431.20,221.90 L431.20,260.80" fill="none" stroke="#111" stroke-width="0.8"/>
<text x="2.00" y="360.50" font-size="12.5" text-anchor="start" font-weight="bold">d</text>
<rect x="42.20" y="449.12" width="8.20" height="11.58" fill="#fff" stroke="#111" stroke-width="0.9"/>
<rect x="50.40" y="449.41" width="8.20" height="11.29" fill="#000" stroke="#000" stroke-width="0.6"/>
<line x1="46.30" y1="448.69" x2="46.30" y2="449.56" stroke="#111" stroke-width="0.8"/>
<line x1="44.30" y1="448.69" x2="48.30" y2="448.69" stroke="#111" stroke-width="0.8"/>
<line x1="44.30" y1="449.56" x2="48.30" y2="449.56" stroke="#111" stroke-width="0.8"/>
<line x1="54.50" y1="449.27" x2="54.50" y2="449.41" stroke="#111" stroke-width="0.8"/>
<line x1="52.50" y1="449.27" x2="56.50" y2="449.27" stroke="#111" stroke-width="0.8"/>
<rect x="67.58" y="446.23" width="8.20" height="14.47" fill="#fff" stroke="#111" stroke-width="0.9"/>
<rect x="75.78" y="446.23" width="8.20" height="14.47" fill="#000" stroke="#000" stroke-width="0.6"/>
<line x1="71.68" y1="445.79" x2="71.68" y2="446.66" stroke="#111" stroke-width="0.8"/>
<line x1="69.68" y1="445.79" x2="73.68" y2="445.79" stroke="#111" stroke-width="0.8"/>
<line x1="69.68" y1="446.66" x2="73.68" y2="446.66" stroke="#111" stroke-width="0.8"/>
<line x1="79.88" y1="446.08" x2="79.88" y2="446.23" stroke="#111" stroke-width="0.8"/>
<line x1="77.88" y1="446.08" x2="81.88" y2="446.08" stroke="#111" stroke-width="0.8"/>
<rect x="92.96" y="435.38" width="8.20" height="25.32" fill="#fff" stroke="#111" stroke-width="0.9"/>
<rect x="101.16" y="442.03" width="8.20" height="18.67" fill="#000" stroke="#000" stroke-width="0.6"/>
<line x1="97.06" y1="433.49" x2="97.06" y2="437.26" stroke="#111" stroke-width="0.8"/>
<line x1="95.06" y1="433.49" x2="99.06" y2="433.49" stroke="#111" stroke-width="0.8"/>
<line x1="95.06" y1="437.26" x2="99.06" y2="437.26" stroke="#111" stroke-width="0.8"/>
<line x1="105.26" y1="441.74" x2="105.26" y2="442.03" stroke="#111" stroke-width="0.8"/>
<line x1="103.26" y1="441.74" x2="107.26" y2="441.74" stroke="#111" stroke-width="0.8"/>
<rect x="118.34" y="408.31" width="8.20" height="52.39" fill="#fff" stroke="#111" stroke-width="0.9"/>
<rect x="126.54" y="428.28" width="8.20" height="32.42" fill="#000" stroke="#000" stroke-width="0.6"/>
<line x1="122.44" y1="406.00" x2="122.44" y2="410.63" stroke="#111" stroke-width="0.8"/>
<line x1="120.44" y1="406.00" x2="124.44" y2="406.00" stroke="#111" stroke-width="0.8"/>
<line x1="120.44" y1="410.63" x2="124.44" y2="410.63" stroke="#111" stroke-width="0.8"/>
<line x1="130.64" y1="427.56" x2="130.64" y2="428.28" stroke="#111" stroke-width="0.8"/>
<line x1="128.64" y1="427.56" x2="132.64" y2="427.56" stroke="#111" stroke-width="0.8"/>
<rect x="143.72" y="395.58" width="8.20" height="65.12" fill="#fff" stroke="#111" stroke-width="0.9"/>
<rect x="151.92" y="415.26" width="8.20" height="45.44" fill="#000" stroke="#000" stroke-width="0.6"/>
<line x1="147.82" y1="395.29" x2="147.82" y2="395.87" stroke="#111" stroke-width="0.8"/>
<line x1="145.82" y1="395.29" x2="149.82" y2="395.29" stroke="#111" stroke-width="0.8"/>
<line x1="145.82" y1="395.87" x2="149.82" y2="395.87" stroke="#111" stroke-width="0.8"/>
<line x1="156.02" y1="414.97" x2="156.02" y2="415.26" stroke="#111" stroke-width="0.8"/>
<line x1="154.02" y1="414.97" x2="158.02" y2="414.97" stroke="#111" stroke-width="0.8"/>
<rect x="169.10" y="384.15" width="8.20" height="76.55" fill="#fff" stroke="#111" stroke-width="0.9"/>
<rect x="177.30" y="414.68" width="8.20" height="46.02" fill="#000" stroke="#000" stroke-width="0.6"/>
<line x1="173.20" y1="381.98" x2="173.20" y2="386.32" stroke="#111" stroke-width="0.8"/>
<line x1="171.20" y1="381.98" x2="175.20" y2="381.98" stroke="#111" stroke-width="0.8"/>
<line x1="171.20" y1="386.32" x2="175.20" y2="386.32" stroke="#111" stroke-width="0.8"/>
<line x1="181.40" y1="413.81" x2="181.40" y2="414.68" stroke="#111" stroke-width="0.8"/>
<line x1="179.40" y1="413.81" x2="183.40" y2="413.81" stroke="#111" stroke-width="0.8"/>
<rect x="194.48" y="375.46" width="8.20" height="85.24" fill="#fff" stroke="#111" stroke-width="0.9"/>
<rect x="202.68" y="410.05" width="8.20" height="50.65" fill="#000" stroke="#000" stroke-width="0.6"/>
<line x1="198.58" y1="368.81" x2="198.58" y2="382.12" stroke="#111" stroke-width="0.8"/>
<line x1="196.58" y1="368.81" x2="200.58" y2="368.81" stroke="#111" stroke-width="0.8"/>
<line x1="196.58" y1="382.12" x2="200.58" y2="382.12" stroke="#111" stroke-width="0.8"/>
<line x1="206.78" y1="409.91" x2="206.78" y2="410.05" stroke="#111" stroke-width="0.8"/>
<line x1="204.78" y1="409.91" x2="208.78" y2="409.91" stroke="#111" stroke-width="0.8"/>
<rect x="41.80" y="359.40" width="170.20" height="101.30" fill="none" stroke="#111" stroke-width="1.1"/>
<line x1="38.30" y1="460.70" x2="41.80" y2="460.70" stroke="#111" stroke-width="0.9"/>
<text x="36.20" y="463.80" font-size="8.8" text-anchor="end">0</text>
<line x1="38.30" y1="446.23" x2="41.80" y2="446.23" stroke="#111" stroke-width="0.9"/>
<text x="36.20" y="449.33" font-size="8.8" text-anchor="end">10</text>
<line x1="38.30" y1="431.76" x2="41.80" y2="431.76" stroke="#111" stroke-width="0.9"/>
<text x="36.20" y="434.86" font-size="8.8" text-anchor="end">20</text>
<line x1="38.30" y1="417.29" x2="41.80" y2="417.29" stroke="#111" stroke-width="0.9"/>
<text x="36.20" y="420.39" font-size="8.8" text-anchor="end">30</text>
<line x1="38.30" y1="402.81" x2="41.80" y2="402.81" stroke="#111" stroke-width="0.9"/>
<text x="36.20" y="405.91" font-size="8.8" text-anchor="end">40</text>
<line x1="38.30" y1="388.34" x2="41.80" y2="388.34" stroke="#111" stroke-width="0.9"/>
<text x="36.20" y="391.44" font-size="8.8" text-anchor="end">50</text>
<line x1="38.30" y1="373.87" x2="41.80" y2="373.87" stroke="#111" stroke-width="0.9"/>
<text x="36.20" y="376.97" font-size="8.8" text-anchor="end">60</text>
<line x1="38.30" y1="359.40" x2="41.80" y2="359.40" stroke="#111" stroke-width="0.9"/>
<text x="36.20" y="362.50" font-size="8.8" text-anchor="end">70</text>
<text x="49.60" y="472.20" font-size="8.8" text-anchor="middle">0</text>
<text x="76.40" y="472.20" font-size="8.8" text-anchor="middle">0.5</text>
<text x="100.70" y="472.20" font-size="8.8" text-anchor="middle">1</text>
<text x="126.40" y="472.20" font-size="8.8" text-anchor="middle">1.5</text>
<text x="151.30" y="472.20" font-size="8.8" text-anchor="middle">2</text>
<text x="176.90" y="472.20" font-size="8.8" text-anchor="middle">3</text>
<text x="201.60" y="472.20" font-size="8.8" text-anchor="middle">6</text>
<text x="116.80" y="486.50" font-size="8.8" text-anchor="middle">Time (h)</text>
<text transform="translate(7.60,410.05) rotate(-90)" font-size="8.8" text-anchor="middle">Caspase-3 activity</text>
<text transform="translate(17.90,410.05) rotate(-90)" font-size="8.8" text-anchor="middle">(DEVD-AFC: RFU &#215; 10<tspan font-size="5.5" dy="-3">4</tspan><tspan dy="3">)</tspan></text>
<text x="196.20" y="368.00" font-size="8" text-anchor="end"><tspan font-style="italic">P</tspan><tspan dx="1.2">&lt;</tspan><tspan dx="1.5">0.05</tspan></text>
<path d="M198.30,368.20 L198.30,362.20 L207.20,362.20 L207.20,406.00" fill="none" stroke="#111" stroke-width="0.8"/>
<text x="228.90" y="359.00" font-size="12.5" text-anchor="start" font-weight="bold">e</text>
<rect x="264.80" y="448.80" width="8.20" height="11.70" fill="#fff" stroke="#111" stroke-width="0.9"/>
<rect x="273.00" y="442.34" width="8.20" height="18.16" fill="#000" stroke="#000" stroke-width="0.6"/>
<line x1="268.90" y1="439.31" x2="268.90" y2="458.28" stroke="#111" stroke-width="0.8"/>
<line x1="266.90" y1="439.31" x2="270.90" y2="439.31" stroke="#111" stroke-width="0.8"/>
<line x1="266.90" y1="458.28" x2="270.90" y2="458.28" stroke="#111" stroke-width="0.8"/>
<line x1="277.10" y1="439.51" x2="277.10" y2="442.34" stroke="#111" stroke-width="0.8"/>
<line x1="275.10" y1="439.51" x2="279.10" y2="439.51" stroke="#111" stroke-width="0.8"/>
<rect x="290.18" y="447.99" width="8.20" height="12.51" fill="#fff" stroke="#111" stroke-width="0.9"/>
<rect x="298.38" y="446.58" width="8.20" height="13.92" fill="#000" stroke="#000" stroke-width="0.6"/>
<line x1="294.28" y1="447.58" x2="294.28" y2="448.39" stroke="#111" stroke-width="0.8"/>
<line x1="292.28" y1="447.58" x2="296.28" y2="447.58" stroke="#111" stroke-width="0.8"/>
<line x1="292.28" y1="448.39" x2="296.28" y2="448.39" stroke="#111" stroke-width="0.8"/>
<line x1="302.48" y1="446.17" x2="302.48" y2="446.58" stroke="#111" stroke-width="0.8"/>
<line x1="300.48" y1="446.17" x2="304.48" y2="446.17" stroke="#111" stroke-width="0.8"/>
<rect x="315.56" y="449.40" width="8.20" height="11.10" fill="#fff" stroke="#111" stroke-width="0.9"/>
<rect x="323.76" y="443.95" width="8.20" height="16.55" fill="#000" stroke="#000" stroke-width="0.6"/>
<line x1="319.66" y1="442.54" x2="319.66" y2="456.26" stroke="#111" stroke-width="0.8"/>
<line x1="317.66" y1="442.54" x2="321.66" y2="442.54" stroke="#111" stroke-width="0.8"/>
<line x1="317.66" y1="456.26" x2="321.66" y2="456.26" stroke="#111" stroke-width="0.8"/>
<line x1="327.86" y1="437.70" x2="327.86" y2="443.95" stroke="#111" stroke-width="0.8"/>
<line x1="325.86" y1="437.70" x2="329.86" y2="437.70" stroke="#111" stroke-width="0.8"/>
<rect x="340.94" y="446.98" width="8.20" height="13.52" fill="#fff" stroke="#111" stroke-width="0.9"/>
<rect x="349.14" y="452.43" width="8.20" height="8.07" fill="#000" stroke="#000" stroke-width="0.6"/>
<line x1="345.04" y1="446.58" x2="345.04" y2="447.38" stroke="#111" stroke-width="0.8"/>
<line x1="343.04" y1="446.58" x2="347.04" y2="446.58" stroke="#111" stroke-width="0.8"/>
<line x1="343.04" y1="447.38" x2="347.04" y2="447.38" stroke="#111" stroke-width="0.8"/>
<line x1="353.24" y1="448.39" x2="353.24" y2="452.43" stroke="#111" stroke-width="0.8"/>
<line x1="351.24" y1="448.39" x2="355.24" y2="448.39" stroke="#111" stroke-width="0.8"/>
<rect x="366.32" y="444.76" width="8.20" height="15.74" fill="#fff" stroke="#111" stroke-width="0.9"/>
<rect x="374.52" y="448.59" width="8.20" height="11.91" fill="#000" stroke="#000" stroke-width="0.6"/>
<line x1="370.42" y1="442.74" x2="370.42" y2="446.78" stroke="#111" stroke-width="0.8"/>
<line x1="368.42" y1="442.74" x2="372.42" y2="442.74" stroke="#111" stroke-width="0.8"/>
<line x1="368.42" y1="446.78" x2="372.42" y2="446.78" stroke="#111" stroke-width="0.8"/>
<line x1="378.62" y1="448.19" x2="378.62" y2="448.59" stroke="#111" stroke-width="0.8"/>
<line x1="376.62" y1="448.19" x2="380.62" y2="448.19" stroke="#111" stroke-width="0.8"/>
<rect x="391.70" y="441.33" width="8.20" height="19.17" fill="#fff" stroke="#111" stroke-width="0.9"/>
<rect x="399.90" y="445.57" width="8.20" height="14.93" fill="#000" stroke="#000" stroke-width="0.6"/>
<line x1="395.80" y1="437.29" x2="395.80" y2="445.37" stroke="#111" stroke-width="0.8"/>
<line x1="393.80" y1="437.29" x2="397.80" y2="437.29" stroke="#111" stroke-width="0.8"/>
<line x1="393.80" y1="445.37" x2="397.80" y2="445.37" stroke="#111" stroke-width="0.8"/>
<line x1="404.00" y1="443.95" x2="404.00" y2="445.57" stroke="#111" stroke-width="0.8"/>
<line x1="402.00" y1="443.95" x2="406.00" y2="443.95" stroke="#111" stroke-width="0.8"/>
<rect x="417.08" y="448.80" width="8.20" height="11.70" fill="#fff" stroke="#111" stroke-width="0.9"/>
<rect x="425.28" y="451.02" width="8.20" height="9.48" fill="#000" stroke="#000" stroke-width="0.6"/>
<line x1="421.18" y1="442.74" x2="421.18" y2="454.85" stroke="#111" stroke-width="0.8"/>
<line x1="419.18" y1="442.74" x2="423.18" y2="442.74" stroke="#111" stroke-width="0.8"/>
<line x1="419.18" y1="454.85" x2="423.18" y2="454.85" stroke="#111" stroke-width="0.8"/>
<line x1="429.38" y1="447.99" x2="429.38" y2="451.02" stroke="#111" stroke-width="0.8"/>
<line x1="427.38" y1="447.99" x2="431.38" y2="447.99" stroke="#111" stroke-width="0.8"/>
<rect x="264.20" y="359.60" width="169.90" height="100.90" fill="none" stroke="#111" stroke-width="1.1"/>
<line x1="260.70" y1="460.50" x2="264.20" y2="460.50" stroke="#111" stroke-width="0.9"/>
<text x="259.00" y="463.60" font-size="8.8" text-anchor="end">0</text>
<line x1="260.70" y1="440.32" x2="264.20" y2="440.32" stroke="#111" stroke-width="0.9"/>
<text x="259.00" y="443.42" font-size="8.8" text-anchor="end">1</text>
<line x1="260.70" y1="420.14" x2="264.20" y2="420.14" stroke="#111" stroke-width="0.9"/>
<text x="259.00" y="423.24" font-size="8.8" text-anchor="end">2</text>
<line x1="260.70" y1="399.96" x2="264.20" y2="399.96" stroke="#111" stroke-width="0.9"/>
<text x="259.00" y="403.06" font-size="8.8" text-anchor="end">3</text>
<line x1="260.70" y1="379.78" x2="264.20" y2="379.78" stroke="#111" stroke-width="0.9"/>
<text x="259.00" y="382.88" font-size="8.8" text-anchor="end">4</text>
<line x1="260.70" y1="359.60" x2="264.20" y2="359.60" stroke="#111" stroke-width="0.9"/>
<text x="259.00" y="362.70" font-size="8.8" text-anchor="end">5</text>
<text x="272.00" y="472.20" font-size="8.8" text-anchor="middle">0</text>
<text x="298.80" y="472.20" font-size="8.8" text-anchor="middle">0.5</text>
<text x="323.10" y="472.20" font-size="8.8" text-anchor="middle">1</text>
<text x="348.80" y="472.20" font-size="8.8" text-anchor="middle">1.5</text>
<text x="373.70" y="472.20" font-size="8.8" text-anchor="middle">2</text>
<text x="399.30" y="472.20" font-size="8.8" text-anchor="middle">3</text>
<text x="424.00" y="472.20" font-size="8.8" text-anchor="middle">6</text>
<text x="352.20" y="485.80" font-size="8.8" text-anchor="middle">Time (h)</text>
<text transform="translate(235.00,411.05) rotate(-90)" font-size="8.8" text-anchor="middle">Caspase-9 activity</text>
<text transform="translate(245.60,411.05) rotate(-90)" font-size="8.8" text-anchor="middle">(LEHD-AMC: RFU &#215; 10<tspan font-size="5.5" dy="-3">3</tspan><tspan dy="3">)</tspan></text>
</svg>
</body></html>
